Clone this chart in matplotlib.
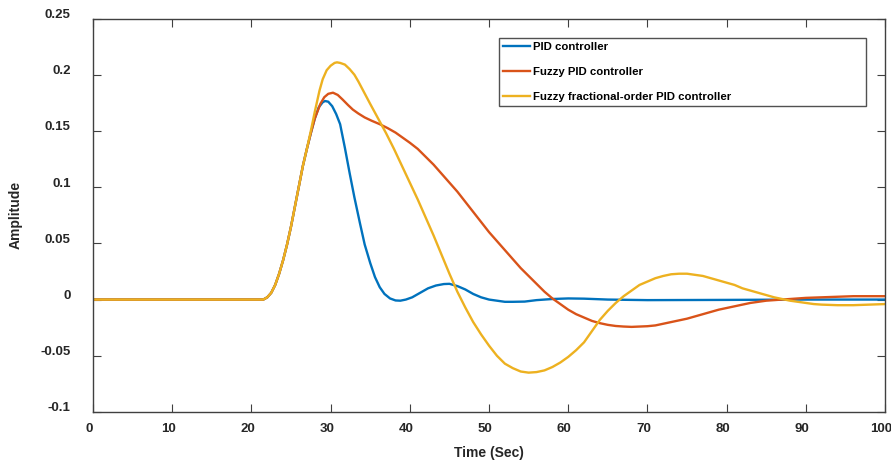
"""
Step response comparison of the three controllers
"""

import matplotlib.pyplot as plt
from matplotlib.transforms import ScaledTranslation

# values
t_rise = [0, 21.5, 22.0, 22.5, 23.0, 23.5, 24.0, 24.5, 25.0, 25.5, 26.0, 26.5, 27.0, 27.5, 28.0]
y_rise = [0, 0, 0.002, 0.006, 0.013, 0.023, 0.035, 0.049, 0.065, 0.083, 0.101, 0.119, 0.134, 0.148, 0.161]

t_pid = t_rise + [28.5, 29.0, 29.3, 29.7, 30.2, 30.7, 31.2, 31.8, 32.4, 33.0, 33.7, 34.3,
                  35.0, 35.6, 36.2, 36.8, 37.5, 38.2, 38.8, 39.5, 40.3, 41.3, 42.3, 43.3,
                  44.3, 45.0, 46.0, 47.0, 48.0, 49.0, 50.0, 51.0, 52.0, 53.0, 54.5, 56.0,
                  58.0, 60.0, 62.0, 65.0, 70.0, 80.0, 90.0, 100.0]
y_pid = y_rise + [0.171, 0.1755, 0.1766, 0.176, 0.172, 0.165, 0.156, 0.135, 0.1125, 0.091, 0.068, 0.049,
                  0.0325, 0.020, 0.011, 0.005, 0.001, -0.0008, -0.001, 0.0, 0.002, 0.006, 0.010, 0.0125,
                  0.0138, 0.014, 0.012, 0.009, 0.005, 0.002, 0.0, -0.001, -0.002, -0.002, -0.0018, -0.0005,
                  0.0005, 0.001, 0.0008, 0.0, -0.0005, -0.0003, 0.0, 0.0]

t_fuzzy = t_rise + [28.7, 29.2, 29.7, 30.3, 30.9, 31.5, 32.2, 32.8, 33.5, 34.3, 35.2, 36.2,
                    37.2, 38.2, 39.1, 40.0, 41.0, 42.0, 43.0, 44.0, 45.0, 46.0, 47.0, 48.0,
                    49.0, 50.0, 51.0, 52.0, 53.0, 54.0, 55.0, 56.0, 57.0, 58.0, 59.0, 60.0,
                    61.0, 62.0, 63.0, 64.0, 65.0, 66.0, 67.0, 68.0, 69.0, 70.0, 71.0, 72.0,
                    73.0, 74.0, 75.0, 76.0, 77.0, 78.0, 79.0, 80.0, 81.0, 82.0, 83.0, 84.0,
                    85.0, 86.0, 87.0, 88.0, 90.0, 92.0, 94.0, 96.0, 100.0]
y_fuzzy = y_rise + [0.174, 0.180, 0.183, 0.184, 0.182, 0.178, 0.173, 0.169, 0.1655, 0.162, 0.159, 0.156,
                    0.1525, 0.1485, 0.144, 0.1395, 0.134, 0.127, 0.120, 0.112, 0.104, 0.096, 0.087, 0.078,
                    0.069, 0.060, 0.052, 0.044, 0.036, 0.028, 0.021, 0.014, 0.007, 0.001, -0.004, -0.009,
                    -0.013, -0.016, -0.019, -0.021, -0.0225, -0.0235, -0.024, -0.0243, -0.024, -0.0237, -0.023, -0.0215,
                    -0.020, -0.0185, -0.017, -0.015, -0.013, -0.011, -0.009, -0.0075, -0.006, -0.0045, -0.003, -0.002,
                    -0.001, -0.0005, 0.0, 0.0005, 0.0015, 0.002, 0.0025, 0.003, 0.003]

t_ffopid = t_rise + [28.6, 29.0, 29.5, 30.0, 30.5, 30.8, 31.2, 31.8, 32.4, 33.0, 33.5, 34.1,
                     35.0, 36.0, 37.0, 38.0, 39.0, 40.0, 41.0, 42.0, 43.0, 44.0, 45.0, 46.0,
                     47.0, 48.0, 49.0, 50.0, 51.0, 52.0, 53.0, 54.0, 55.0, 56.0, 57.0, 58.0,
                     59.0, 60.0, 61.0, 62.0, 63.0, 64.0, 65.0, 66.0, 67.0, 68.0, 69.0, 70.0,
                     71.0, 72.0, 73.0, 74.0, 75.0, 76.0, 77.0, 78.0, 79.0, 80.0, 81.0, 82.0,
                     83.0, 84.0, 85.0, 86.0, 87.0, 88.0, 89.0, 90.0, 91.0, 92.0, 94.0, 96.0,
                     98.0, 100.0]
y_ffopid = y_rise[:-2] + [0.150, 0.167] + [0.186, 0.196, 0.204, 0.208, 0.2105, 0.211, 0.2105, 0.209, 0.205, 0.200, 0.194, 0.186,
                     0.174, 0.161, 0.148, 0.134, 0.119, 0.104, 0.089, 0.073, 0.057, 0.040, 0.023, 0.007,
                     -0.007, -0.020, -0.031, -0.041, -0.050, -0.057, -0.061, -0.064, -0.065, -0.0645, -0.063, -0.060,
                     -0.056, -0.051, -0.045, -0.038, -0.028, -0.018, -0.010, -0.003, 0.003, 0.008, 0.013, 0.016,
                     0.019, 0.021, 0.0225, 0.023, 0.023, 0.022, 0.021, 0.019, 0.017, 0.015, 0.013, 0.010,
                     0.008, 0.006, 0.004, 0.002, 0.0005, -0.001, -0.002, -0.003, -0.004, -0.0045, -0.005, -0.005,
                     -0.0045, -0.004]

labels = ['PID controller', 'Fuzzy PID controller', 'Fuzzy fractional-order PID controller']
colors = ['#0072BD', '#D95319', '#EDB120']

plt.rcParams['font.family'] = ['Liberation Sans', 'DejaVu Sans']
plt.rcParams['font.weight'] = 'bold'

fig = plt.figure(figsize=(8.91, 4.66), dpi=100)
ax = fig.add_axes([0.1044, 0.1159, 0.8889, 0.8444])

series = [(t_pid, y_pid), (t_fuzzy, y_fuzzy), (t_ffopid, y_ffopid)]
for (t, y), lab, c in zip(series, labels, colors):
    ax.plot(t, y, color=c, lw=1.7, label=lab)

ax.set_xlim(0, 100)
ax.set_ylim(-0.1, 0.25)
ax.set_xticks(range(0, 101, 10))
ax.set_yticks([-0.1, -0.05, 0, 0.05, 0.1, 0.15, 0.2, 0.25])
ax.set_yticklabels(['-0.1', '-0.05', '0', '0.05', '0.1', '0.15', '0.2', '0.25'])

for s in ax.spines.values():
    s.set_color('#404040')
    s.set_linewidth(1.0)
ax.tick_params(direction='in', length=6, width=0.8, color='#404040',
               top=True, right=True, labelsize=9.5, labelcolor='#262626')
ax.tick_params(axis='y', pad=16)
ax.tick_params(axis='x', pad=8)

# MATLAB-like offsets of tick labels
for lbl in ax.get_yticklabels():
    lbl.set_transform(lbl.get_transform() + ScaledTranslation(0, 5 / 100, fig.dpi_scale_trans))
for lbl in ax.get_xticklabels():
    lbl.set_transform(lbl.get_transform() + ScaledTranslation(-4 / 100, 0, fig.dpi_scale_trans))

ax.set_xlabel('Time (Sec)', fontsize=10, fontweight='bold', color='#262626', labelpad=8)
ax.set_ylabel('Amplitude', fontsize=10, fontweight='bold', color='#262626', labelpad=13)

leg = ax.legend(loc='upper left', bbox_to_anchor=(499 / 891, 1 - 113 / 466, 367 / 891, 75 / 466),
                bbox_transform=fig.transFigure, mode='expand', fontsize=8.2, frameon=True,
                fancybox=False, handlelength=2.4, handletextpad=0.2, labelspacing=1.3,
                borderpad=0.35, borderaxespad=0)
leg.get_frame().set_edgecolor('#262626')
leg.get_frame().set_linewidth(1.0)
for txt in leg.get_texts():
    txt.set_fontweight('bold')

fig.savefig('out.png', dpi=100)
